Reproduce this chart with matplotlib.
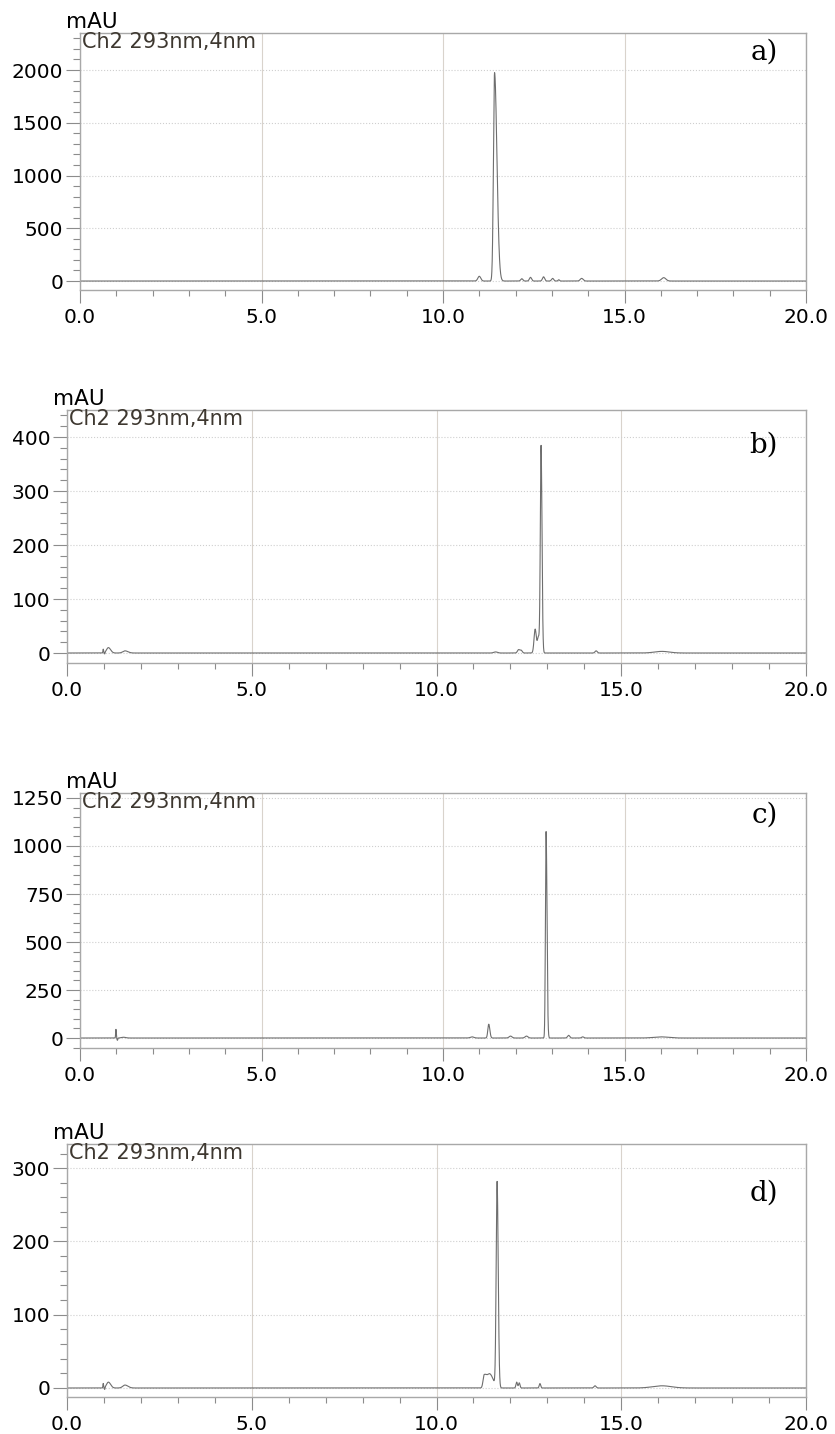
import numpy as np
import matplotlib
matplotlib.use('Agg')
import matplotlib.pyplot as plt
from matplotlib.ticker import MultipleLocator

plt.rcParams['font.family'] = ['DejaVu Sans']

W_PX = 835
H_PX = 1434

# peak tables: centre (min), height (mAU), left / right width (min)
a_pos = [11.0, 11.42, 12.17, 12.41, 12.77, 13.02, 13.19, 13.82, 16.08]
a_hgt = [45, 1975, 22, 35, 40, 25, 12, 25, 32]
a_sl = [0.04, 0.03, 0.03, 0.03, 0.03, 0.03, 0.02, 0.04, 0.06]
a_sr = [0.04, 0.065, 0.03, 0.03, 0.03, 0.03, 0.02, 0.04, 0.06]

b_pos = [0.98, 1.02, 1.12, 1.57, 11.6, 12.22, 12.29, 12.67, 12.76, 12.83, 14.32, 16.1]
b_hgt = [7, -3, 10, 4, 2, 6, 5, 44, 30, 378, 4, 3]
b_sl = [0.008, 0.008, 0.05, 0.06, 0.05, 0.03, 0.03, 0.03, 0.03, 0.02, 0.03, 0.2]
b_sr = [0.008, 0.008, 0.06, 0.08, 0.05, 0.03, 0.03, 0.03, 0.04, 0.025, 0.03, 0.2]

c_pos = [0.99, 1.03, 1.2, 10.8, 11.26, 11.86, 12.3, 12.84, 13.46, 13.85, 16.0]
c_hgt = [45, -12, 4, 6, 72, 10, 10, 1075, 14, 6, 6]
c_sl = [0.008, 0.01, 0.06, 0.05, 0.025, 0.04, 0.04, 0.018, 0.03, 0.03, 0.2]
c_sr = [0.008, 0.01, 0.06, 0.05, 0.03, 0.04, 0.04, 0.025, 0.03, 0.03, 0.2]

d_pos = [0.98, 1.02, 1.12, 1.57, 11.29, 11.45, 11.64, 12.17, 12.24, 12.8, 14.29, 16.1]
d_hgt = [6, -3, 8, 4, 17, 18, 280, 8, 7, 6, 3, 3]
d_sl = [0.008, 0.008, 0.05, 0.06, 0.03, 0.07, 0.025, 0.02, 0.02, 0.02, 0.03, 0.25]
d_sr = [0.008, 0.008, 0.06, 0.08, 0.07, 0.09, 0.03, 0.02, 0.02, 0.02, 0.03, 0.25]

x_ticks = [0.0, 5.0, 10.0, 15.0, 20.0]
x_ticklabels = ['0.0', '5.0', '10.0', '15.0', '20.0']

panels = [
    # letter, peaks, ylim, major y step, minor y step, box in pixels (left, top, bottom), label y px
    ('a)', (a_pos, a_hgt, a_sl, a_sr), (-85, 2351), 500, 100, (80, 33, 290), 52),
    ('b)', (b_pos, b_hgt, b_sl, b_sr), (-18.5, 450), 100, 20, (67, 410, 663), 445),
    ('c)', (c_pos, c_hgt, c_sl, c_sr), (-52, 1276), 250, 50, (80, 793, 1048), 815),
    ('d)', (d_pos, d_hgt, d_sl, d_sr), (-12.3, 333), 100, 20, (67, 1144, 1397), 1193),
]

t = np.linspace(0, 20, 8001)


def trace(pos, hgt, sl, sr):
    y = np.zeros_like(t)
    for p, h, s1, s2 in zip(pos, hgt, sl, sr):
        s = np.where(t < p, s1, s2)
        y += h * np.exp(-0.5 * ((t - p) / s) ** 2)
    return y


fig = plt.figure(figsize=(W_PX / 100, H_PX / 100), dpi=100)

for letter, peaks, ylim, ymaj, ymin, box, lab_y in panels:
    left, top, bottom = box
    right = 806
    ax = fig.add_axes([left / W_PX, 1 - bottom / H_PX,
                       (right - left) / W_PX, (bottom - top) / H_PX])
    ax.plot(t, trace(*peaks), color='#6e6e6e', lw=0.8)
    ax.set_xlim(0, 20)
    ax.set_ylim(*ylim)

    ax.set_xticks(x_ticks)
    ax.set_xticklabels(x_ticklabels)
    ax.xaxis.set_minor_locator(MultipleLocator(1))
    ax.yaxis.set_major_locator(MultipleLocator(ymaj))
    ax.yaxis.set_minor_locator(MultipleLocator(ymin))
    ax.set_yticks([v for v in ax.get_yticks() if 0 <= v <= ylim[1]])

    ax.tick_params(axis='both', which='both', color='#8c8c8c', labelsize=14.5)
    ax.tick_params(axis='y', which='major', length=10, width=0.8, pad=2)
    ax.tick_params(axis='y', which='minor', length=5, width=0.8)
    ax.tick_params(axis='x', which='major', length=9, width=0.8, pad=4)
    ax.tick_params(axis='x', which='minor', length=4, width=0.8)

    for sp in ax.spines.values():
        sp.set_color('#a8a8a8')
        sp.set_linewidth(1.0)

    ax.grid(axis='y', which='major', color='#cfcfcf', ls=':', lw=0.8)
    ax.grid(axis='x', which='major', color='#d9d3cc', ls='-', lw=0.8)
    ax.set_axisbelow(True)

    ax.text(0.003, 1.005, 'Ch2 293nm,4nm', transform=ax.transAxes,
            ha='left', va='top', fontsize=15, color='#3e3830')
    ax.text((778 - left) / (right - left), (bottom - lab_y) / (bottom - top), letter,
            transform=ax.transAxes, ha='right', va='center',
            fontsize=20, family='DejaVu Serif', color='black')

    fig.text((left - 14) / W_PX, 1 - (top - 5) / H_PX, 'mAU',
             ha='left', va='baseline', fontsize=15.5)

fig.savefig('out.png', dpi=100)
